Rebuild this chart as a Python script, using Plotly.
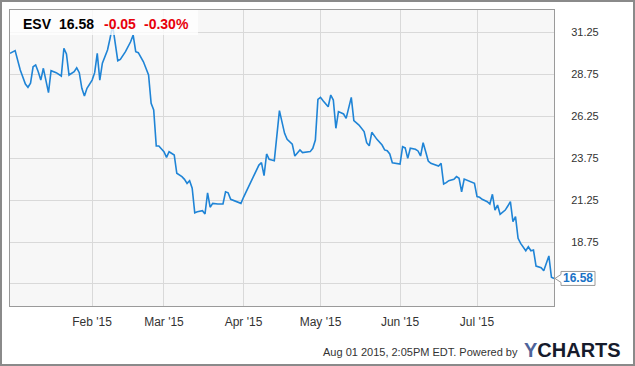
import plotly.graph_objects as go

# ---------------- data ----------------
ticker = "ESV"
last_price = "16.58"
change = "-0.05"
change_pct = "-0.30%"
footer_text = "Aug 01 2015, 2:05PM EDT. Powered by"

dates = [
    "2014-12-31", "2015-01-02", "2015-01-04", "2015-01-06", "2015-01-07", "2015-01-08",
    "2015-01-09", "2015-01-10", "2015-01-11", "2015-01-12", "2015-01-13", "2015-01-15",
    "2015-01-16", "2015-01-18", "2015-01-20", "2015-01-21", "2015-01-22", "2015-01-23",
    "2015-01-25", "2015-01-26", "2015-01-27", "2015-01-28", "2015-01-29", "2015-01-30",
    "2015-02-01", "2015-02-02", "2015-02-03", "2015-02-04", "2015-02-05", "2015-02-07",
    "2015-02-08", "2015-02-09", "2015-02-11", "2015-02-12", "2015-02-14", "2015-02-16",
    "2015-02-17", "2015-02-18", "2015-02-19", "2015-02-21", "2015-02-23", "2015-02-24",
    "2015-02-25", "2015-02-26", "2015-02-27", "2015-03-01", "2015-03-02", "2015-03-03",
    "2015-03-05", "2015-03-06", "2015-03-08", "2015-03-09", "2015-03-10", "2015-03-11",
    "2015-03-12", "2015-03-13", "2015-03-14", "2015-03-16", "2015-03-17", "2015-03-18",
    "2015-03-19", "2015-03-20", "2015-03-22", "2015-03-24", "2015-03-25", "2015-03-26",
    "2015-03-27", "2015-03-29", "2015-03-31", "2015-04-01", "2015-04-03", "2015-04-05",
    "2015-04-07", "2015-04-08", "2015-04-09", "2015-04-10", "2015-04-11", "2015-04-12",
    "2015-04-13", "2015-04-15", "2015-04-17", "2015-04-18", "2015-04-19", "2015-04-20",
    "2015-04-21", "2015-04-23", "2015-04-24", "2015-04-27", "2015-04-28", "2015-04-29",
    "2015-04-30", "2015-05-01", "2015-05-02", "2015-05-04", "2015-05-05", "2015-05-06",
    "2015-05-07", "2015-05-08", "2015-05-10", "2015-05-11", "2015-05-13", "2015-05-14",
    "2015-05-16", "2015-05-18", "2015-05-19", "2015-05-20", "2015-05-21", "2015-05-23",
    "2015-05-25", "2015-05-26", "2015-05-27", "2015-05-28", "2015-05-29", "2015-05-31",
    "2015-06-01", "2015-06-02", "2015-06-03", "2015-06-04", "2015-06-05", "2015-06-07",
    "2015-06-08", "2015-06-09", "2015-06-10", "2015-06-11", "2015-06-12", "2015-06-13",
    "2015-06-15", "2015-06-16", "2015-06-17", "2015-06-18", "2015-06-19", "2015-06-20",
    "2015-06-22", "2015-06-23", "2015-06-24", "2015-06-25", "2015-06-26", "2015-06-28",
    "2015-06-29", "2015-06-30", "2015-07-01", "2015-07-02", "2015-07-03", "2015-07-05",
    "2015-07-06", "2015-07-07", "2015-07-08", "2015-07-09", "2015-07-10", "2015-07-12",
    "2015-07-13", "2015-07-14", "2015-07-15", "2015-07-16", "2015-07-17", "2015-07-18",
    "2015-07-20", "2015-07-21", "2015-07-22", "2015-07-23", "2015-07-24", "2015-07-26",
    "2015-07-27", "2015-07-29", "2015-07-30", "2015-07-31",
]

prices = [
    29.98, 30.14, 28.99, 28.15, 27.96, 28.20,
    29.18, 29.29, 28.89, 28.39, 29.09, 27.64,
    28.95, 28.83, 28.63, 30.28, 29.94, 28.69,
    28.89, 29.12, 28.83, 27.90, 27.44, 27.90,
    28.39, 28.83, 29.98, 28.39, 29.39, 30.18,
    30.88, 31.65, 29.54, 29.62, 30.08, 30.67,
    31.07, 30.08, 30.02, 29.48, 28.69, 27.01,
    26.61, 24.46, 24.46, 24.12, 23.79, 24.12,
    23.93, 22.84, 22.64, 22.48, 22.24, 22.40,
    21.95, 20.49, 20.55, 20.61, 20.42, 21.68,
    20.82, 21.05, 21.01, 21.01, 21.74, 21.68,
    21.29, 21.15, 21.05, 21.41, 22.04, 22.64,
    23.33, 23.47, 22.70, 23.99, 23.67, 23.63,
    23.59, 26.57, 25.22, 24.86, 24.72, 24.58,
    23.87, 24.23, 24.07, 24.13, 24.33, 24.82,
    27.24, 27.36, 27.16, 26.80, 27.50, 27.20,
    25.52, 26.51, 26.37, 26.11, 27.36, 25.97,
    25.71, 25.32, 24.66, 24.48, 25.28, 24.86,
    24.52, 24.23, 24.18, 23.99, 23.47, 23.43,
    23.39, 24.42, 24.35, 23.73, 24.33, 24.27,
    24.17, 23.87, 24.66, 24.12, 23.57, 23.43,
    23.33, 23.27, 23.43, 22.20, 22.28, 22.40,
    22.48, 22.64, 22.54, 21.74, 22.50, 22.38,
    22.28, 22.24, 21.45, 21.41, 21.29, 21.15,
    21.01, 21.59, 20.65, 20.95, 20.40, 20.65,
    20.89, 21.15, 19.96, 20.26, 18.97, 18.67,
    18.23, 18.47, 18.23, 18.27, 17.32, 17.22,
    17.04, 17.92, 16.65, 16.58,
]

y_tick_vals = [16.25, 18.75, 21.25, 23.75, 26.25, 28.75, 31.25]
y_tick_text = ["", "18.75", "21.25", "23.75", "26.25", "28.75", "31.25"]
x_tick_vals = ["2015-02-01", "2015-03-01", "2015-04-01", "2015-05-01", "2015-06-01", "2015-07-01"]
x_tick_text = ["Feb '15", "Mar '15", "Apr '15", "May '15", "Jun '15", "Jul '15"]

# ---------------- layout helpers ----------------
W, H = 635, 366
ML, MR, MT, MB = 10, 81, 10, 60
PW, PH = W - ML - MR, H - MT - MB
Y_RANGE = [14.94, 32.56]


def px_x(x):
    return (x - ML) / PW


def px_y(y):
    return (H - MB - y) / PH


FONT = "Liberation Sans, Arial, sans-serif"
LINE_BLUE = "#1f84d6"
RED = "#e8000b"

fig = go.Figure()
fig.add_trace(go.Scatter(
    x=dates, y=prices, mode="lines",
    line=dict(color=LINE_BLUE, width=1.6),
    hoverinfo="skip", showlegend=False,
))

# anchor of the end-value label: last point (x range ends at the last date)
last_y_paper = (prices[-1] - Y_RANGE[0]) / (Y_RANGE[1] - Y_RANGE[0])

shapes = [
    # semi-transparent header box
    dict(type="rect", xref="paper", yref="paper", layer="above",
         x0=0, x1=px_x(198), y0=px_y(35), y1=1,
         fillcolor="rgba(255,255,255,0.78)", line=dict(width=0)),
    # outer frame
    dict(type="rect", xref="paper", yref="paper", layer="above",
         x0=px_x(1), x1=px_x(634), y0=px_y(365), y1=px_y(1),
         fillcolor="rgba(0,0,0,0)", line=dict(color="#8a8a8a", width=2)),
    # end-value label box with pointer (pixel offsets from last point)
    dict(type="path", xref="paper", yref="paper", layer="above",
         xsizemode="pixel", ysizemode="pixel",
         xanchor=1.0, yanchor=last_y_paper,
         path="M 1 0 L 7 4 L 7 7 L 41 7 L 41 -7 L 7 -7 L 7 -4 Z",
         fillcolor="white", line=dict(color="#9a9a9a", width=1)),
]

annotations = [
    dict(text="<b>%s</b>" % ticker, x=px_x(21), y=px_y(24)),
    dict(text="<b>%s</b>" % last_price, x=px_x(57), y=px_y(24)),
    dict(text="<b>%s</b>" % change, x=px_x(102), y=px_y(24), font=dict(color=RED)),
    dict(text="<b>%s</b>" % change_pct, x=px_x(142), y=px_y(24), font=dict(color=RED)),
]
for a in annotations:
    a.update(xref="paper", yref="paper", xanchor="left", yanchor="middle", showarrow=False)
    f = dict(family=FONT, size=14, color="#000")
    f.update(a.get("font", {}))
    a["font"] = f

annotations += [
    dict(text="<b>%s</b>" % last_price, x=1.0, y=last_y_paper, xref="paper", yref="paper",
         xanchor="left", yanchor="middle", xshift=7, yshift=0, showarrow=False,
         font=dict(family=FONT, size=12, color="#1a73c6")),
    dict(text=footer_text, x=px_x(520), y=px_y(352), xref="paper", yref="paper",
         xanchor="right", yanchor="middle", showarrow=False,
         font=dict(family=FONT, size=11, color="#333")),
    dict(text="<b><span style='color:#4e6399'>Y</span>CHARTS</b>", x=px_x(522), y=px_y(350),
         xref="paper", yref="paper", xanchor="left", yanchor="middle", showarrow=False,
         font=dict(family=FONT, size=20, color="#161b2c")),
]

fig.update_layout(
    width=W, height=H,
    margin=dict(l=ML, r=MR, t=MT, b=MB, pad=0),
    paper_bgcolor="white", plot_bgcolor="#f7f7f7",
    font=dict(family=FONT, size=11, color="#333"),
    shapes=shapes, annotations=annotations,
    showlegend=False,
    xaxis=dict(
        type="date", range=[dates[0], dates[-1]],
        tickvals=x_tick_vals, ticktext=x_tick_text,
        showgrid=True, gridcolor="#d9d9d9", gridwidth=1,
        showline=True, linecolor="#9a9a9a", linewidth=1, mirror=True,
        ticks="", ticklabelstandoff=5, zeroline=False,
        tickfont=dict(family=FONT, size=12, color="#333"),
        fixedrange=True,
    ),
    yaxis=dict(
        side="right", range=Y_RANGE,
        tickvals=y_tick_vals, ticktext=y_tick_text,
        showgrid=True, gridcolor="#d9d9d9", gridwidth=1,
        showline=True, linecolor="#9a9a9a", linewidth=1, mirror=True,
        ticks="", ticklabelstandoff=14, zeroline=False,
        tickfont=dict(family=FONT, size=11, color="#333"),
        fixedrange=True,
    ),
)

fig.write_html("out.html", config={"displayModeBar": False})
